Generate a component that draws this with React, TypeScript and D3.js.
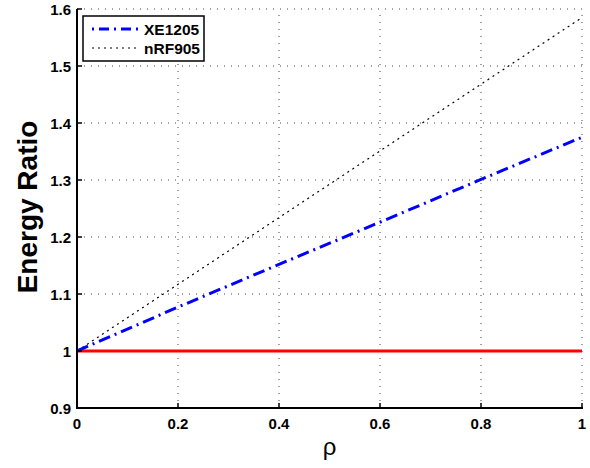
import React from "react";
import * as d3 from "d3";

const rho = [0, 0.2, 0.4, 0.6, 0.8, 1.0];
const xe1205 = [1.0, 1.077, 1.152, 1.226, 1.301, 1.375];
const nrf905 = [1.0, 1.117, 1.234, 1.351, 1.468, 1.585];
const baseline = [1.0, 1.0, 1.0, 1.0, 1.0, 1.0];
const xTicks = [0, 0.2, 0.4, 0.6, 0.8, 1];
const yTicks = [0.9, 1, 1.1, 1.2, 1.3, 1.4, 1.5, 1.6];
const seriesNames = ["XE1205", "nRF905"];

export default function App() {
  const W = 590, H = 468;
  const L = 77, R = 582, T = 9, B = 408;
  const x = d3.scaleLinear().domain([0, 1]).range([L, R]);
  const y = d3.scaleLinear().domain([0.9, 1.6]).range([B, T]);
  const line = (vals: number[]) =>
    d3.line<number>().x((_, i) => x(rho[i])).y((d) => y(d))(vals) || "";
  const font = "Liberation Sans, Arial, sans-serif";
  return (
    <svg width={W} height={H} style={{ position: "absolute", left: 0, top: 0 }} fontFamily={font}>
      <rect width={W} height={H} fill="#fff" />
      {/* grid */}
      {xTicks.slice(1).map((t) => (
        <line key={"gx" + t} x1={x(t)} x2={x(t)} y1={B} y2={T} stroke="#444" strokeWidth={1} strokeDasharray="1,6" />
      ))}
      {yTicks.slice(1).map((t) => (
        <line key={"gy" + t} x1={L} x2={R} y1={y(t)} y2={y(t)} stroke="#444" strokeWidth={1} strokeDasharray="1,6" />
      ))}
      {/* series */}
      <path d={line(baseline)} fill="none" stroke="#ff0000" strokeWidth={3} />
      <path d={line(nrf905)} fill="none" stroke="#000" strokeWidth={1.2} strokeDasharray="2,4" />
      <path d={line(xe1205)} fill="none" stroke="#0000ff" strokeWidth={3} strokeDasharray="12,5,2,5" />
      {/* axes */}
      <line x1={L} x2={L} y1={T} y2={B + 1} stroke="#000" strokeWidth={2} />
      <line x1={L - 1} x2={R + 1} y1={B} y2={B} stroke="#000" strokeWidth={2} />
      {yTicks.map((t) => (
        <g key={"ty" + t}>
          <line x1={L} x2={L + 5} y1={y(t)} y2={y(t)} stroke="#000" strokeWidth={1.5} />
          <text x={L - 6} y={y(t) + 6} textAnchor="end" fontSize={15} fontWeight="bold">{t}</text>
        </g>
      ))}
      {xTicks.map((t) => (
        <g key={"tx" + t}>
          <line x1={x(t)} x2={x(t)} y1={B} y2={B - 5} stroke="#000" strokeWidth={1.5} />
          <text x={x(t)} y={B + 21} textAnchor="middle" fontSize={15} fontWeight="bold">{t}</text>
        </g>
      ))}
      <text x={x(0.5)} y={455} textAnchor="middle" fontSize={24}>ρ</text>
      <text transform={`translate(37,207) rotate(-90)`} textAnchor="middle" fontSize={28} fontWeight="bold">Energy Ratio</text>
      {/* legend */}
      <rect x={83} y={16} width={121} height={45} fill="#fff" stroke="#000" strokeWidth={1.5} />
      <line x1={92} x2={138} y1={29} y2={29} stroke="#0000ff" strokeWidth={3} strokeDasharray="2,5,10,5" />
      <text x={144} y={35} fontSize={15.5} fontWeight="bold">{seriesNames[0]}</text>
      <line x1={92} x2={138} y1={48} y2={48} stroke="#000" strokeWidth={1.2} strokeDasharray="2,4" />
      <text x={144} y={54} fontSize={15.5} fontWeight="bold">{seriesNames[1]}</text>
    </svg>
  );
}
